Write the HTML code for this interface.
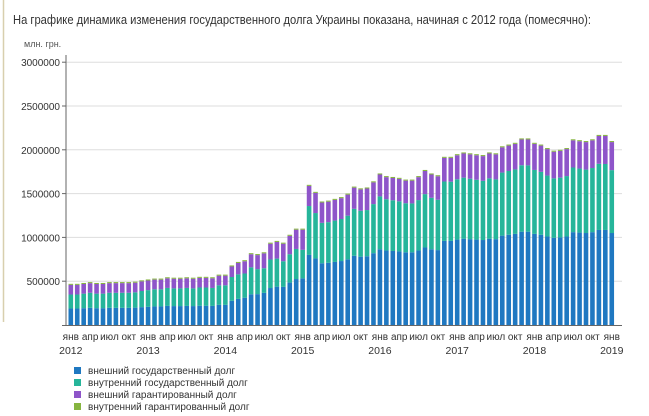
<!DOCTYPE html>
<html><head><meta charset="utf-8"><style>
html,body{margin:0;padding:0;background:#fff;width:649px;height:416px;overflow:hidden}
svg{display:block;font-family:"Liberation Sans",Arial,sans-serif}
</style></head><body>
<svg id="s" width="649" height="416" xmlns="http://www.w3.org/2000/svg">
<line x1="3.5" y1="0" x2="3.5" y2="322" stroke="#d8cfae" stroke-width="1.5"/>
<text x="13" y="24" font-size="12.5" fill="#333" textLength="578" lengthAdjust="spacingAndGlyphs">На графике динамика изменения государственного долга Украины показана, начиная с 2012 года (помесячно):</text>
<text x="24" y="47" font-size="9" fill="#555">млн. грн.</text>
<g id="grid"></g>
<g id="bars"></g>
<line x1="66" y1="55" x2="66" y2="326" stroke="#666"/>
<line x1="62" y1="325.5" x2="622" y2="325.5" stroke="#666"/>
<g font-size="10" fill="#333">
<rect x="74" y="367" width="7" height="7" fill="#1f78c1"/><text x="88" y="374">внешний государственный долг</text>
<rect x="74" y="379" width="7" height="7" fill="#26b59a"/><text x="88" y="386">внутренний государственный долг</text>
<rect x="74" y="391" width="7" height="7" fill="#8e55c9"/><text x="88" y="398">внешний гарантированный долг</text>
<rect x="74" y="403" width="7" height="7" fill="#86b540"/><text x="88" y="410">внутренний гарантированный долг</text>
</g>
</svg>
<script>
var NS="http://www.w3.org/2000/svg",g=document.getElementById('grid'),b=document.getElementById('bars');
function el(t,a,p,tx){var e=document.createElementNS(NS,t);for(var k in a)e.setAttribute(k,a[k]);if(tx)e.textContent=tx;p.appendChild(e);return e;}
var y0=325,pp=87.6;
for(var i=1;i<=6;i++){var y=y0-i*0.5*pp;el('line',{x1:66,x2:622,y1:y,y2:y,stroke:'#ddd'},g);el('line',{x1:62,x2:66,y1:y,y2:y,stroke:'#666'},g);
el('text',{x:60,y:y+4,'font-size':10,fill:'#333','text-anchor':'end'},g,String(i*500000));}
var T=[470,470,480,490,480,480,490,490,490,490,495,510,
520,530,530,545,540,540,545,540,550,550,545,575,
575,680,720,740,820,810,830,940,960,940,1030,1100,
1100,1600,1520,1410,1420,
1440,1460,1500,1580,1560,1570,1640,1730,1700,1690,1680,1660,1660,1700,1770,1730,1710,
1920,1920,1950,1970,1960,1950,1940,1970,1960,
2040,2060,2080,2130,2130,2080,2060,2020,1990,2000,2020,
2120,2110,2100,2120,2170,2170,2100];
var pitch=6.44,x0=68.5,w=4.6;
for(var m=0;m<T.length;m++){var t=T[m]*1000,f=m/84;
var pur=m<24?110000:(m<37?110000+(m-24)*10000:(m<38?230000:Math.min(320000,230000+(m-38)*2000)));
var bl=t*(m<24?0.4:(m<37?0.4+(m-24)*0.007:0.5)),tiny=12000,gr=t-bl-pur-tiny;
var x=x0+m*pitch,y=y0,parts=[[bl,'#1f78c1'],[gr,'#26b59a'],[pur,'#8e55c9'],[tiny,'#86b540']];
for(var k=0;k<4;k++){var h=parts[k][0]/1e6*pp;y-=h;el('rect',{x:x,y:y,width:w,height:h,fill:parts[k][1]},b);}}
var lab=['янв','апр','июл','окт'];
for(var yr=0;yr<8;yr++){for(var q=0;q<4;q++){var m=yr*12+q*3;if(m>84)break;var cx=x0+m*pitch+w/2;
el('text',{x:cx,y:340,'font-size':10,fill:'#333','text-anchor':'middle'},b,lab[q]);}
el('text',{x:x0+yr*12*pitch+w/2,y:354,'font-size':10.5,fill:'#333','text-anchor':'middle'},b,String(2012+yr));}
</script>
</body></html>
